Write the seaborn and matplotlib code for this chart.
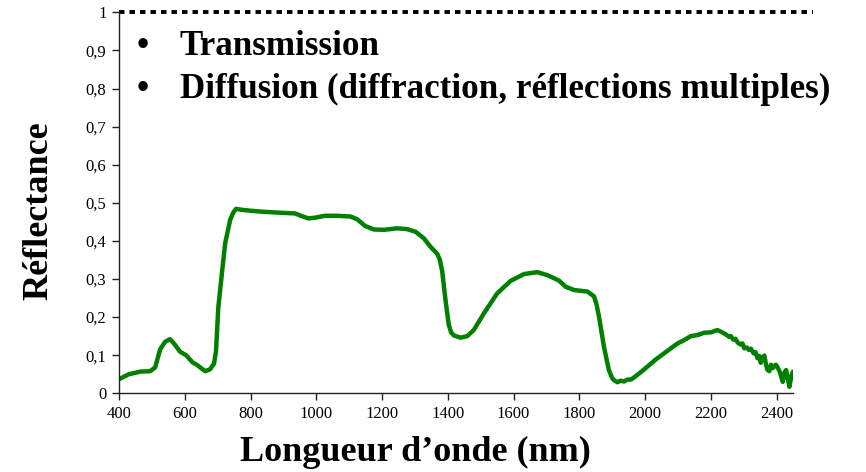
#!/usr/bin/env python3
"""Spectre de réflectance d'une feuille (400-2450 nm)."""

import matplotlib

matplotlib.use("Agg")
import matplotlib.pyplot as plt
import pandas as pd
import seaborn as sns

# valeurs
wavelength_nm = [
    400, 430, 465, 495, 510, 525, 540, 555, 567, 586, 604, 624, 638, 662, 677,
    689, 695, 702, 713, 723, 738, 748, 756, 779, 829, 890, 936, 956, 977, 997,
    1027, 1063, 1104, 1124, 1149, 1175, 1205, 1246, 1276, 1302, 1327, 1347,
    1368, 1376, 1383, 1393, 1403, 1410, 1418, 1439, 1459, 1479, 1510, 1550,
    1591, 1632, 1672, 1703, 1738, 1758, 1784, 1825, 1845, 1852, 1860, 1875,
    1890, 1900, 1906, 1916, 1926, 1936, 1946, 1957, 1967, 1985, 2007, 2030,
    2058, 2080, 2099, 2120, 2139, 2160, 2180, 2200, 2220, 2230, 2241, 2250,
    2256, 2261, 2268, 2275, 2282, 2290, 2296, 2302, 2310, 2316, 2322, 2330,
    2336, 2342, 2347, 2352, 2358, 2363, 2368, 2372, 2378, 2383, 2388, 2393,
    2398, 2403, 2408, 2412, 2419, 2424, 2429, 2434, 2439, 2445, 2450,
]
reflectance = [
    0.037, 0.050, 0.057, 0.058, 0.068, 0.115, 0.135, 0.142, 0.131, 0.109,
    0.100, 0.081, 0.074, 0.058, 0.063, 0.078, 0.110, 0.225, 0.315, 0.394,
    0.455, 0.475, 0.484, 0.481, 0.477, 0.474, 0.472, 0.465, 0.459, 0.461,
    0.466, 0.466, 0.464, 0.457, 0.439, 0.430, 0.429, 0.433, 0.431, 0.424,
    0.407, 0.385, 0.366, 0.350, 0.320, 0.245, 0.180, 0.160, 0.152, 0.146,
    0.150, 0.166, 0.210, 0.262, 0.295, 0.313, 0.318, 0.310, 0.296, 0.280,
    0.271, 0.267, 0.254, 0.235, 0.201, 0.122, 0.061, 0.040, 0.034, 0.029,
    0.033, 0.031, 0.036, 0.036, 0.042, 0.054, 0.070, 0.087, 0.105, 0.119,
    0.131, 0.140, 0.150, 0.153, 0.159, 0.160, 0.166, 0.162, 0.157, 0.152,
    0.148, 0.150, 0.141, 0.143, 0.133, 0.128, 0.131, 0.118, 0.120, 0.114,
    0.117, 0.105, 0.108, 0.092, 0.098, 0.080, 0.095, 0.099, 0.075, 0.062,
    0.058, 0.075, 0.066, 0.071, 0.075, 0.068, 0.060, 0.050, 0.030, 0.055,
    0.061, 0.040, 0.017, 0.045, 0.057,
]
x_ticks = [400, 600, 800, 1000, 1200, 1400, 1600, 1800, 2000, 2200, 2400]
y_ticks = [0, 0.1, 0.2, 0.3, 0.4, 0.5, 0.6, 0.7, 0.8, 0.9, 1]
y_tick_labels = ["0", "0,1", "0,2", "0,3", "0,4", "0,5", "0,6", "0,7", "0,8", "0,9", "1"]
bullets = ["Transmission", "Diffusion (diffraction, réflections multiples)"]

sns.set_theme(style="white")
plt.rcParams["font.family"] = ["Liberation Serif", "DejaVu Serif"]
plt.rcParams["text.color"] = "black"

data = pd.DataFrame({"wavelength": wavelength_nm, "reflectance": reflectance})

fig = plt.figure(figsize=(8.66, 4.72), dpi=100)
ax = fig.add_axes([119 / 866, 1 - 393.3 / 472, 674 / 866, 381 / 472])
sns.lineplot(data=data, x="wavelength", y="reflectance", ax=ax,
             color="#008000", lw=3.2, solid_joinstyle="round", solid_capstyle="round")

ax.set_xlim(400, 2450)
ax.set_ylim(0, 1)
ax.set_xticks(x_ticks)
ax.set_yticks(y_ticks)
ax.set_yticklabels(y_tick_labels)
ax.set_xlabel("")
ax.set_ylabel("")
ax.tick_params(axis="both", direction="out", length=5, width=1, color="#222222",
               labelsize=12, labelcolor="black", pad=4, bottom=True, left=True)

for side in ["top", "right"]:
    ax.spines[side].set_visible(False)
for side in ["left", "bottom"]:
    ax.spines[side].set_color("#222222")
    ax.spines[side].set_linewidth(1.0)

# ligne pointillée à 100 %
ax.axhline(1, xmin=0, xmax=1.03, color="black", lw=2.8,
           linestyle=(0, (1.4, 1.3)), clip_on=False)

for i, label in enumerate(bullets):
    yb = 1 - (55 + 43 * i) / 472
    fig.text(137 / 866, yb, "\u2022", fontsize=25, fontweight="bold", va="baseline", color="black")
    fig.text(180 / 866, yb, label, fontsize=25.2, fontweight="bold", va="baseline", color="black")

fig.text(415 / 866, 1 - 461 / 472, "Longueur d\u2019onde (nm)", fontsize=26,
         fontweight="bold", ha="center", va="baseline", color="black")
fig.text(39 / 866, 1 - 211 / 472, "Réflectance", fontsize=26, fontweight="bold",
         rotation=90, ha="center", va="center", color="black")

fig.savefig("out.png", dpi=100)
plt.close(fig)
